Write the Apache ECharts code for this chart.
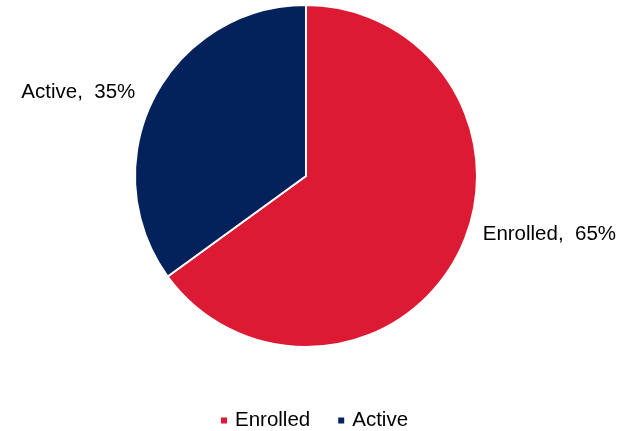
<!DOCTYPE html>
<html>
<head>
<meta charset="utf-8">
<script src="https://cdn.jsdelivr.net/npm/echarts@6/dist/echarts.min.js"></script>
<style>
  html, body { margin: 0; padding: 0; background: #ffffff; }
  #chart { width: 634px; height: 431px; }
</style>
</head>
<body>
<div id="chart"></div>
<script>
// Share of members by status
const categories = ['Enrolled', 'Active'];
const shares = [65, 35];
const colors = ['#DD1A33', '#03215B'];
// nudges for the outside labels, per slice
const labelOffsets = [[14, -22], [-8, -3]];

const FONT = 'Liberation Sans, Arial, sans-serif';
const chart = echarts.init(document.getElementById('chart'), null, { renderer: 'canvas' });

const pieData = categories.map((name, i) => ({
  name: name,
  value: shares[i],
  itemStyle: { color: colors[i] },
  label: { offset: labelOffsets[i] }
}));

chart.setOption({
  animation: false,
  textStyle: { fontFamily: FONT },
  legend: {
    top: 405,
    left: 214,
    icon: 'rect',
    itemWidth: 8,
    itemHeight: 8,
    itemGap: 26,
    textStyle: { fontSize: 20.5, color: '#000000', fontFamily: FONT, padding: [0, 0, 0, 2] },
    data: categories
  },
  series: [{
    type: 'pie',
    center: [306, 176],
    radius: 171,
    startAngle: 90,
    clockwise: true,
    avoidLabelOverlap: false,
    itemStyle: { borderColor: '#ffffff', borderWidth: 2 },
    label: {
      show: true,
      position: 'outside',
      formatter: '{b},  {c}%',
      fontSize: 20.5,
      color: '#000000',
      fontFamily: FONT
    },
    labelLine: { show: false, length: 6, length2: 0 },
    data: pieData
  }]
});
</script>
</body>
</html>
